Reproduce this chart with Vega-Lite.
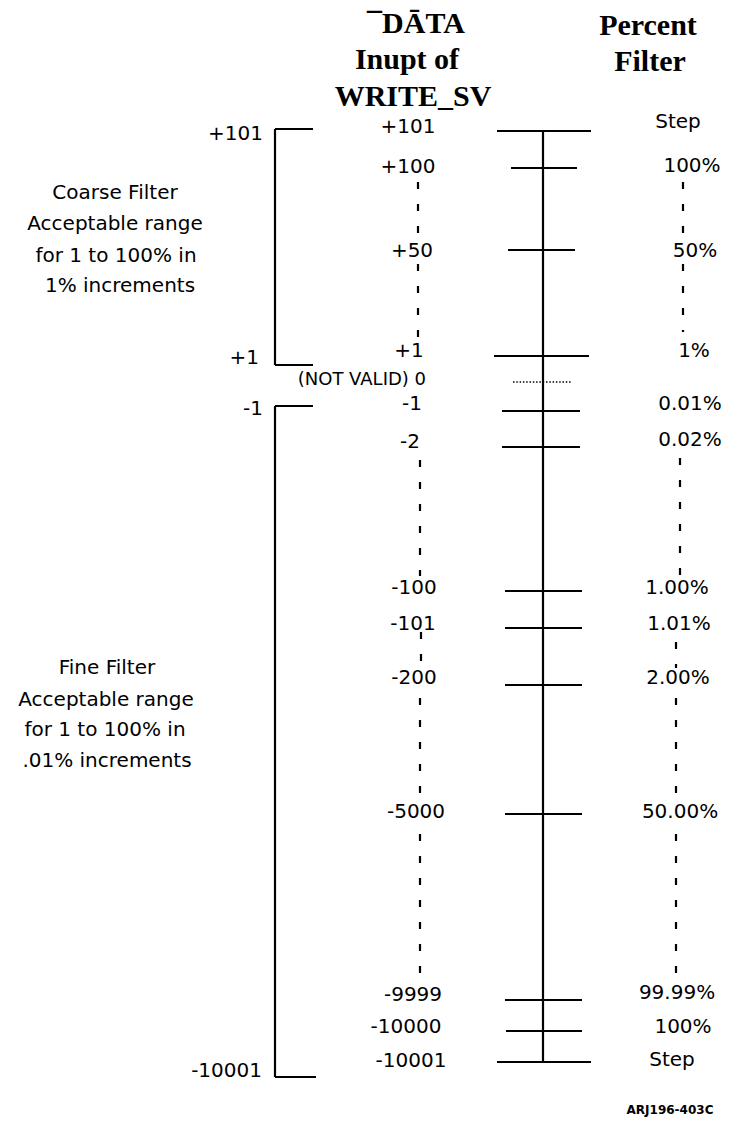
{
  "$schema": "https://vega.github.io/schema/vega-lite/v6.json",
  "autosize": {"type": "fit", "contains": "padding"},
  "width": 729,
  "height": 1122,
  "padding": 0,
  "background": "white",
  "config": {"view": {"stroke": null}},
  "datasets": {
    "lines": [
      {"x": 543, "x2": 543, "y": 131, "y2": 1062, "kind": "solid"},
      {"x": 497, "x2": 591, "y": 131, "y2": 131, "kind": "solid"},
      {"x": 511, "x2": 577, "y": 168, "y2": 168, "kind": "solid"},
      {"x": 508, "x2": 575, "y": 250, "y2": 250, "kind": "solid"},
      {"x": 494, "x2": 589, "y": 356, "y2": 356, "kind": "solid"},
      {"x": 502, "x2": 580, "y": 411, "y2": 411, "kind": "solid"},
      {"x": 502, "x2": 580, "y": 447, "y2": 447, "kind": "solid"},
      {"x": 505, "x2": 582, "y": 591, "y2": 591, "kind": "solid"},
      {"x": 505, "x2": 582, "y": 628, "y2": 628, "kind": "solid"},
      {"x": 505, "x2": 582, "y": 685, "y2": 685, "kind": "solid"},
      {"x": 505, "x2": 582, "y": 814, "y2": 814, "kind": "solid"},
      {"x": 505, "x2": 582, "y": 1000, "y2": 1000, "kind": "solid"},
      {"x": 506, "x2": 582, "y": 1031, "y2": 1031, "kind": "solid"},
      {"x": 497, "x2": 591, "y": 1062, "y2": 1062, "kind": "solid"},
      {"x": 275, "x2": 275, "y": 129, "y2": 365, "kind": "solid"},
      {"x": 275, "x2": 313, "y": 129, "y2": 129, "kind": "solid"},
      {"x": 275, "x2": 313, "y": 365, "y2": 365, "kind": "solid"},
      {"x": 275, "x2": 275, "y": 406, "y2": 1077, "kind": "solid"},
      {"x": 275, "x2": 313, "y": 406, "y2": 406, "kind": "solid"},
      {"x": 275, "x2": 316, "y": 1077, "y2": 1077, "kind": "solid"},
      {"x": 513, "x2": 572, "y": 382, "y2": 382, "kind": "dot"},
      {"x": 418, "x2": 418, "y": 182, "y2": 240, "kind": "dash"},
      {"x": 418, "x2": 418, "y": 264, "y2": 340, "kind": "dash"},
      {"x": 420, "x2": 420, "y": 460, "y2": 576, "kind": "dash"},
      {"x": 421, "x2": 421, "y": 632, "y2": 662, "kind": "dash"},
      {"x": 420, "x2": 420, "y": 698, "y2": 800, "kind": "dash"},
      {"x": 420, "x2": 420, "y": 834, "y2": 985, "kind": "dash"},
      {"x": 683, "x2": 683, "y": 182, "y2": 240, "kind": "dash"},
      {"x": 683, "x2": 683, "y": 264, "y2": 332, "kind": "dash"},
      {"x": 680, "x2": 680, "y": 458, "y2": 576, "kind": "dash"},
      {"x": 676, "x2": 676, "y": 642, "y2": 668, "kind": "dash"},
      {"x": 676, "x2": 676, "y": 698, "y2": 798, "kind": "dash"},
      {"x": 676, "x2": 676, "y": 834, "y2": 985, "kind": "dash"}
    ],
    "heads": [
      {"x": 416, "y": 33, "text": "¯DĀTA"},
      {"x": 407, "y": 69, "text": "Inupt of"},
      {"x": 413, "y": 106, "text": "WRITE_SV"},
      {"x": 648, "y": 35, "text": "Percent"},
      {"x": 650, "y": 71, "text": "Filter"}
    ],
    "center": [
      {"x": 408, "y": 127, "text": "+101"},
      {"x": 408, "y": 167, "text": "+100"},
      {"x": 412, "y": 251, "text": "+50"},
      {"x": 409, "y": 351, "text": "+1"},
      {"x": 412, "y": 404, "text": "-1"},
      {"x": 410, "y": 442, "text": "-2"},
      {"x": 414, "y": 588, "text": "-100"},
      {"x": 413, "y": 624, "text": "-101"},
      {"x": 414, "y": 678, "text": "-200"},
      {"x": 416, "y": 812, "text": "-5000"},
      {"x": 413, "y": 995, "text": "-9999"},
      {"x": 406, "y": 1027, "text": "-10000"},
      {"x": 411, "y": 1061, "text": "-10001"},
      {"x": 678, "y": 122, "text": "Step"},
      {"x": 692, "y": 166, "text": "100%"},
      {"x": 695, "y": 251, "text": "50%"},
      {"x": 694, "y": 351, "text": "1%"},
      {"x": 690, "y": 404, "text": "0.01%"},
      {"x": 690, "y": 440, "text": "0.02%"},
      {"x": 677, "y": 588, "text": "1.00%"},
      {"x": 679, "y": 624, "text": "1.01%"},
      {"x": 678, "y": 678, "text": "2.00%"},
      {"x": 680, "y": 812, "text": "50.00%"},
      {"x": 677, "y": 993, "text": "99.99%"},
      {"x": 683, "y": 1027, "text": "100%"},
      {"x": 672, "y": 1060, "text": "Step"},
      {"x": 115, "y": 193, "text": "Coarse Filter"},
      {"x": 115, "y": 224, "text": "Acceptable range"},
      {"x": 116, "y": 256, "text": "for 1 to 100% in"},
      {"x": 120, "y": 286, "text": "1% increments"},
      {"x": 107, "y": 668, "text": "Fine Filter"},
      {"x": 106, "y": 700, "text": "Acceptable range"},
      {"x": 105, "y": 730, "text": "for 1 to 100% in"},
      {"x": 107, "y": 761, "text": ".01% increments"}
    ],
    "right": [
      {"x": 263, "y": 134, "text": "+101"},
      {"x": 259, "y": 358, "text": "+1"},
      {"x": 263, "y": 409, "text": "-1"},
      {"x": 262, "y": 1071, "text": "-10001"}
    ]
  },
  "layer": [
    {
      "data": {"name": "lines"},
      "transform": [{"filter": "datum.kind === 'solid'"}],
      "mark": {"type": "rule", "color": "black", "strokeWidth": 2.2},
      "encoding": {
        "x": {"field": "x", "type": "quantitative", "scale": {"domain": [0, 729], "zero": false, "nice": false}, "axis": null},
        "x2": {"field": "x2"},
        "y": {"field": "y", "type": "quantitative", "scale": {"domain": [0, 1122], "zero": false, "nice": false, "reverse": true}, "axis": null},
        "y2": {"field": "y2"}
      }
    },
    {
      "data": {"name": "lines"},
      "transform": [{"filter": "datum.kind === 'dash'"}],
      "mark": {"type": "rule", "color": "black", "strokeWidth": 2.2, "strokeDash": [7, 15]},
      "encoding": {
        "x": {"field": "x", "type": "quantitative"},
        "x2": {"field": "x2"},
        "y": {"field": "y", "type": "quantitative"},
        "y2": {"field": "y2"}
      }
    },
    {
      "data": {"name": "lines"},
      "transform": [{"filter": "datum.kind === 'dot'"}],
      "mark": {"type": "rule", "color": "black", "strokeWidth": 1.5, "strokeDash": [1.5, 1.8]},
      "encoding": {
        "x": {"field": "x", "type": "quantitative"},
        "x2": {"field": "x2"},
        "y": {"field": "y", "type": "quantitative"},
        "y2": {"field": "y2"}
      }
    },
    {
      "data": {"name": "heads"},
      "mark": {"type": "text", "font": "Liberation Serif", "fontWeight": "bold", "fontSize": 30, "align": "center", "baseline": "alphabetic", "color": "black"},
      "encoding": {
        "x": {"field": "x", "type": "quantitative"},
        "y": {"field": "y", "type": "quantitative"},
        "text": {"field": "text"}
      }
    },
    {
      "data": {"name": "center"},
      "mark": {"type": "text", "font": "DejaVu Sans", "fontSize": 20, "align": "center", "baseline": "middle", "color": "black"},
      "encoding": {
        "x": {"field": "x", "type": "quantitative"},
        "y": {"field": "y", "type": "quantitative"},
        "text": {"field": "text"}
      }
    },
    {
      "data": {"name": "right"},
      "mark": {"type": "text", "font": "DejaVu Sans", "fontSize": 20, "align": "right", "baseline": "middle", "color": "black"},
      "encoding": {
        "x": {"field": "x", "type": "quantitative"},
        "y": {"field": "y", "type": "quantitative"},
        "text": {"field": "text"}
      }
    },
    {
      "data": {"values": [{"x": 426, "y": 380, "text": "(NOT VALID) 0"}]},
      "mark": {"type": "text", "font": "DejaVu Sans", "fontSize": 18, "align": "right", "baseline": "middle", "color": "black"},
      "encoding": {
        "x": {"field": "x", "type": "quantitative"},
        "y": {"field": "y", "type": "quantitative"},
        "text": {"field": "text"}
      }
    },
    {
      "data": {"values": [{"x": 670, "y": 1110, "text": "ARJ196-403C"}]},
      "mark": {"type": "text", "font": "DejaVu Sans", "fontSize": 12, "fontWeight": "bold", "align": "center", "baseline": "middle", "color": "black"},
      "encoding": {
        "x": {"field": "x", "type": "quantitative"},
        "y": {"field": "y", "type": "quantitative"},
        "text": {"field": "text"}
      }
    }
  ]
}
